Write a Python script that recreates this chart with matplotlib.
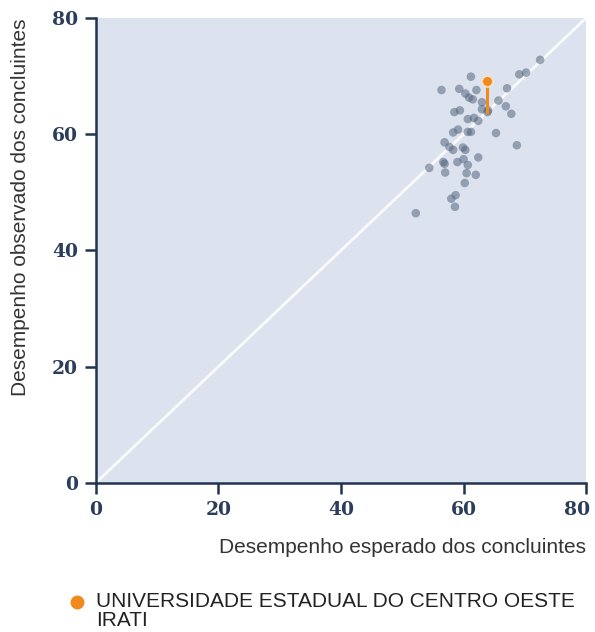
import matplotlib
matplotlib.use("Agg")
import matplotlib.pyplot as plt
from matplotlib.lines import Line2D
from matplotlib.transforms import ScaledTranslation

# Data: expected (x) vs observed (y) performance
expected = [72.5, 69.1, 70.2, 61.2, 56.4, 59.3, 62.1, 60.3, 60.9, 61.5,
            67.1, 65.7, 63.0, 66.9, 63.0, 64.0, 67.8, 58.5, 59.4, 60.7,
            61.7, 62.4, 58.3, 59.1, 60.7, 61.2, 65.3, 56.9, 57.7, 58.3,
            59.9, 60.3, 68.7, 62.4, 54.4, 56.7, 56.9, 59.0, 60.0, 60.7,
            57.0, 60.5, 62.0, 60.2, 58.0, 58.7, 58.6, 52.2, 63.9]
observed = [72.8, 70.3, 70.6, 69.9, 67.6, 67.8, 67.6, 67.0, 66.3, 66.0,
            67.9, 65.8, 65.5, 64.8, 64.3, 64.1, 63.5, 63.8, 64.1, 62.6,
            62.8, 62.3, 60.3, 60.8, 60.4, 60.4, 60.2, 58.6, 57.8, 57.3,
            57.7, 57.3, 58.1, 56.0, 54.2, 55.2, 54.9, 55.2, 55.7, 54.7,
            53.4, 53.3, 53.0, 51.6, 48.9, 49.5, 47.5, 46.4, 63.8]

highlight_name = "UNIVERSIDADE ESTADUAL DO CENTRO OESTE\nIRATI"
highlight_expected = 63.8
highlight_observed = 69.2

ticks = [0, 20, 40, 60, 80]
xlabel = "Desempenho esperado dos concluintes"
ylabel = "Desempenho observado dos concluintes"

navy = "#1f3552"
orange = "#f08a1c"
point_color = "#56667f"
bg = "#dce3ee"

fig = plt.figure(figsize=(5.95, 6.32), dpi=100)
ax = fig.add_axes([0.1613, 0.2362, 0.985 - 0.1613, 0.9715 - 0.2362])
ax.set_facecolor(bg)
ax.set_xlim(0, 80)
ax.set_ylim(0, 80)

# diagonal
ax.plot([0, 80], [0, 80], color="white", lw=2, alpha=0.85, zorder=1)

ax.scatter(expected, observed, s=38, color=point_color, alpha=0.55,
           edgecolors="none", zorder=2)

ax.plot([highlight_expected, highlight_expected],
        [highlight_expected, highlight_observed],
        color=orange, lw=2.2, zorder=3)
ax.scatter([highlight_expected], [highlight_observed], s=60, color=orange,
           edgecolors="#fbe3c4", linewidths=1.2, zorder=4)

for side in ["top", "right"]:
    ax.spines[side].set_visible(False)
for side in ["left", "bottom"]:
    ax.spines[side].set_color(navy)
    ax.spines[side].set_linewidth(1.8)

ax.set_xticks(ticks)
ax.set_yticks(ticks)
ax.set_xticklabels([str(t) for t in ticks])
ax.set_yticklabels([str(t) for t in ticks])
ax.tick_params(axis="both", colors=navy, width=1.8, length=8, direction="out",
               labelsize=13.5, pad=5)
for lab in ax.get_xticklabels() + ax.get_yticklabels():
    lab.set_fontfamily("DejaVu Serif")
    lab.set_fontweight("bold")
    lab.set_color("#2b3d5a")
# last x label pulled inside the figure
last = ax.get_xticklabels()[-1]
last.set_transform(last.get_transform() + ScaledTranslation(-9 / 100, 0, fig.dpi_scale_trans))

ax.set_xlabel(xlabel, fontsize=15, color="#333333", family="Liberation Sans",
              loc="right", labelpad=14)
ax.set_ylabel(ylabel, fontsize=15, color="#333333", family="Liberation Sans",
              loc="top", labelpad=16)

# legend
fig.add_artist(Line2D([77 / 595], [1 - 602 / 632], marker="o", color=orange,
                      markersize=9, linestyle="none", transform=fig.transFigure))
fig.text(96 / 595, 1 - 592 / 632, highlight_name, fontsize=15,
         family="Liberation Sans", color="#222222", va="top", ha="left",
         linespacing=1.0)

fig.savefig("out.png", dpi=100, facecolor="white")
